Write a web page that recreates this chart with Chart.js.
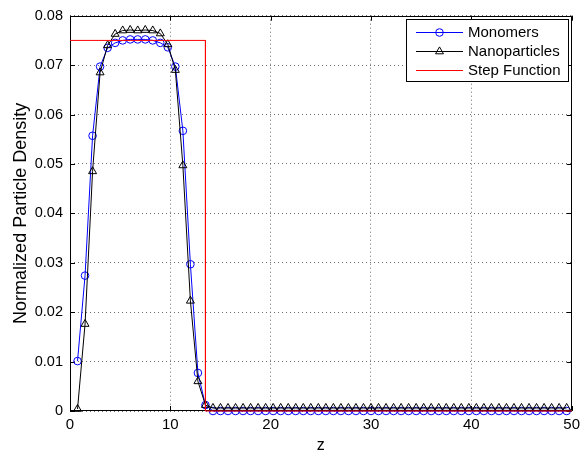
<!DOCTYPE html>
<html>
<head>
<meta charset="utf-8">
<script src="https://cdn.jsdelivr.net/npm/chart.js@4.4.1/dist/chart.umd.min.js"></script>
<style>
  html, body { margin: 0; padding: 0; background: #fff; }
  #wrap { width: 585px; height: 450px; }
</style>
</head>
<body>
<div id="wrap"><canvas id="density" width="585" height="450"></canvas></div>
<script>
// grid positions along z
var zPos = [0.75,1.5,2.25,3,3.75,4.5,5.25,6,6.75,7.5,8.25,9,9.75,10.5,11.25,12,12.75,13.5,
	14.25,15,15.75,16.5,17.25,18,18.75,19.5,20.25,21,21.75,22.5,23.25,24,24.75,25.5,26.25,27,
	27.75,28.5,29.25,30,30.75,31.5,32.25,33,33.75,34.5,35.25,36,36.75,37.5,38.25,39,39.75,40.5,
	41.25,42,42.75,43.5,44.25,45,45.75,46.5,47.25,48,48.75,49.5];

var monomers = [0.0101,0.0274,0.0557,0.0697,0.0735,0.0745,0.0750,0.0752,0.0752,0.0752,0.0750,0.0745,
	0.0736,0.0697,0.0567,0.0297,0.0077,0.0012,
	0,0,0,0,0,0,0,0,0,0,0,0,0,0,0,0,0,0,0,0,0,0,0,0,
	0,0,0,0,0,0,0,0,0,0,0,0,0,0,0,0,0,0,0,0,0,0,0,0];

var nanoparticles = [0.0004,0.0176,0.0485,0.0685,0.0740,0.0763,0.0770,0.0771,0.0770,0.0771,0.0770,0.0764,
	0.0742,0.0690,0.0497,0.0223,0.0060,0.0012,
	0.0006,0.0006,0.0006,0.0006,0.0006,0.0006,0.0006,0.0006,0.0006,0.0006,0.0006,0.0006,
	0.0006,0.0006,0.0006,0.0006,0.0006,0.0006,0.0006,0.0006,0.0006,0.0006,0.0006,0.0006,
	0.0006,0.0006,0.0006,0.0006,0.0006,0.0006,0.0006,0.0006,0.0006,0.0006,0.0006,0.0006,
	0.0006,0.0006,0.0006,0.0006,0.0006,0.0006,0.0006,0.0006,0.0006,0.0006,0.0006,0.0006];

// step profile corners
var stepZ = [0, 13.5, 13.5, 50];
var stepY = [0.075, 0.075, 0, 0];

var xTicks = [0, 10, 20, 30, 40, 50];
var yTicks = [0, 0.01, 0.02, 0.03, 0.04, 0.05, 0.06, 0.07, 0.08];

function pairs(xs, ys) {
	var out = [];
	for (var i = 0; i < xs.length; i++) out.push({x: xs[i], y: ys[i]});
	return out;
}

var FONT = "'Liberation Sans', Arial, Helvetica, sans-serif";

// box round the plot + inward ticks on all four sides
var framePlugin = {
	id: 'frame',
	beforeDatasetsDraw: function(chart) {
		var a = chart.chartArea, ctx = chart.ctx;
		var xs = chart.scales.x, ys = chart.scales.y, tl = 5;
		ctx.save();
		ctx.strokeStyle = '#000';
		ctx.lineWidth = 1;
		ctx.beginPath();
		ctx.rect(Math.round(a.left) + 0.5, Math.round(a.top) + 0.5,
			Math.round(a.right - a.left) - 1, Math.round(a.bottom - a.top) - 1);
		xTicks.forEach(function(v) {
			var px = Math.round(xs.getPixelForValue(v)) + 0.5;
			ctx.moveTo(px, a.bottom); ctx.lineTo(px, a.bottom - tl);
			ctx.moveTo(px, a.top); ctx.lineTo(px, a.top + tl);
		});
		yTicks.forEach(function(v) {
			var py = Math.round(ys.getPixelForValue(v)) + 0.5;
			ctx.moveTo(a.left, py); ctx.lineTo(a.left + tl, py);
			ctx.moveTo(a.right, py); ctx.lineTo(a.right - tl, py);
		});
		ctx.stroke();
		ctx.restore();
	},
	afterDraw: function(chart) {
		// legend box in the upper right corner
		var ctx = chart.ctx;
		var bx = 406.5, by = 19.5, bw = 162, bh = 62;
		ctx.save();
		ctx.fillStyle = '#fff';
		ctx.fillRect(bx, by, bw, bh);
		ctx.strokeStyle = '#000';
		ctx.lineWidth = 1;
		ctx.strokeRect(bx, by, bw, bh);
		var rows = [32, 51, 70];
		chart.data.datasets.forEach(function(ds, i) {
			var y = rows[i] + 0.5;
			ctx.strokeStyle = ds.borderColor;
			ctx.lineWidth = 1;
			ctx.beginPath();
			ctx.moveTo(416, y); ctx.lineTo(463, y);
			ctx.stroke();
			if (ds.pointRadius > 0) {
				ctx.fillStyle = 'rgba(0,0,0,0)';
				Chart.helpers.drawPoint(ctx, {
					pointStyle: ds.pointStyle, radius: ds.pointRadius, borderWidth: 1, rotation: 0
				}, 439.5, y);
			}
			ctx.fillStyle = '#000';
			ctx.font = '15px ' + FONT;
			ctx.textAlign = 'left';
			ctx.textBaseline = 'middle';
			ctx.fillText(ds.label, 468, rows[i] + 1);
		});
		ctx.restore();
	}
};

var ctx = document.getElementById('density').getContext('2d');
var densityChart = new Chart(ctx, {
	type: 'scatter',
	data: {
		datasets: [
			{
				label: 'Monomers',
				data: pairs(zPos, monomers),
				showLine: true,
				borderColor: '#0000ff',
				borderWidth: 1,
				pointStyle: 'circle',
				pointRadius: 3.8,
				pointBorderColor: '#0000ff',
				pointBackgroundColor: 'rgba(0,0,0,0)',
				pointBorderWidth: 1,
				clip: false,
				order: 2
			},
			{
				label: 'Nanoparticles',
				data: pairs(zPos, nanoparticles),
				showLine: true,
				borderColor: '#000000',
				borderWidth: 1,
				pointStyle: 'triangle',
				pointRadius: 4.6,
				pointBorderColor: '#000000',
				pointBackgroundColor: 'rgba(0,0,0,0)',
				pointBorderWidth: 1,
				clip: false,
				order: 1
			},
			{
				label: 'Step Function',
				data: pairs(stepZ, stepY),
				showLine: true,
				borderColor: '#ff0000',
				borderWidth: 1,
				pointRadius: 0,
				clip: false,
				order: 0
			}
		]
	},
	options: {
		responsive: false,
		animation: false,
		events: [],
		layout: { padding: { left: 0, right: 8, top: 11, bottom: 0 } },
		plugins: { legend: { display: false }, tooltip: { enabled: false } },
		scales: {
			x: {
				type: 'linear',
				min: 0, max: 50,
				afterFit: function(s) { s.height = 39; },
				afterBuildTicks: function(s) { s.ticks = xTicks.map(function(v) { return {value: v}; }); },
				border: { display: false, dash: [1, 3] },
				grid: { color: '#6e6e6e', drawTicks: false, lineWidth: 1 },
				ticks: { color: '#000', padding: 5, font: { size: 15, family: FONT }, maxRotation: 0 },
				title: { display: true, text: 'z', color: '#000', font: { size: 16, family: FONT, lineHeight: 1 }, padding: { top: -4, bottom: -4 } }
			},
			y: {
				type: 'linear',
				min: 0, max: 0.08,
				afterFit: function(s) { s.width = 70; },
				afterBuildTicks: function(s) { s.ticks = yTicks.map(function(v) { return {value: v}; }); },
				border: { display: false, dash: [1, 3] },
				grid: { color: '#6e6e6e', drawTicks: false, lineWidth: 1 },
				ticks: {
					color: '#000', padding: 7, font: { size: 14.5, family: FONT },
					callback: function(v) { return v === 0 ? '0' : v.toFixed(2); }
				},
				title: { display: true, text: 'Normalized Particle Density', color: '#000', font: { size: 18, family: FONT, lineHeight: 1.2 }, padding: { top: 10, bottom: 0 } }
			}
		}
	},
	plugins: [framePlugin]
});
</script>
</body>
</html>
